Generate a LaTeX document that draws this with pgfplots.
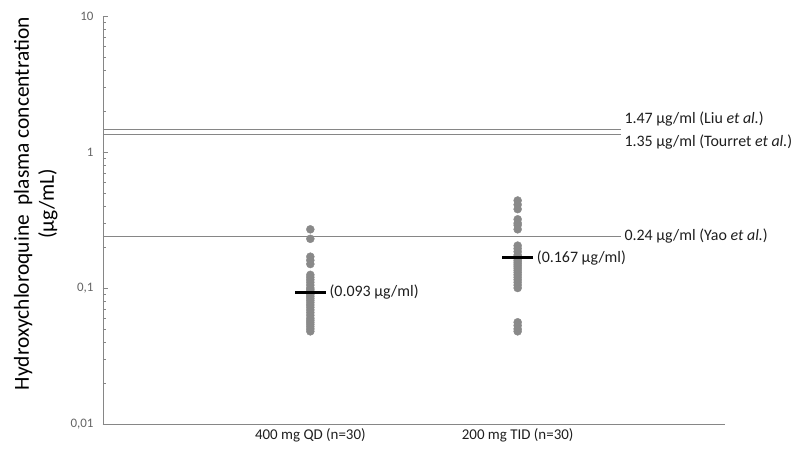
\documentclass[border=0pt]{standalone}
\usepackage{fontspec}
\setmainfont{Carlito}
\usepackage{pgfplots}
\pgfplotsset{compat=1.18}

\definecolor{dotgray}{RGB}{137,137,137}
\definecolor{axgray}{RGB}{134,134,134}
\definecolor{ticktxt}{RGB}{100,100,100}
\definecolor{txt}{RGB}{30,30,30}

% individual plasma concentrations, 400 mg QD
\pgfplotstableread{
x y
1 0.27
1 0.23
1 0.17
1 0.16
1 0.15
1 0.125
1 0.12
1 0.115
1 0.11
1 0.105
1 0.10
1 0.097
1 0.094
1 0.09
1 0.087
1 0.084
1 0.081
1 0.078
1 0.075
1 0.072
1 0.069
1 0.066
1 0.063
1 0.06
1 0.058
1 0.056
1 0.054
1 0.052
1 0.05
1 0.048
}\qd

% individual plasma concentrations, 200 mg TID
\pgfplotstableread{
x y
2 0.44
2 0.41
2 0.38
2 0.32
2 0.30
2 0.29
2 0.27
2 0.205
2 0.195
2 0.185
2 0.175
2 0.17
2 0.165
2 0.16
2 0.155
2 0.15
2 0.145
2 0.14
2 0.135
2 0.13
2 0.125
2 0.12
2 0.115
2 0.11
2 0.105
2 0.10
2 0.056
2 0.053
2 0.05
2 0.048
}\tid

\begin{document}
\begin{tikzpicture}
\path[use as bounding box] (-103bp,-31bp) rectangle (693bp,424bp);
\begin{axis}[
  at={(0,0)}, anchor=south west,
  scale only axis,
  width=622bp, height=408bp,
  ymode=log,
  ymin=0.01, ymax=10,
  xmin=0, xmax=3,
  axis x line=bottom,
  axis y line=left,
  axis line style={axgray, line width=0.9bp, -},
  ytick={0.01,0.1,1,10},
  yticklabels={{0,01},{0,1},1,10},
  yticklabel style={font=\fontsize{13}{15}\selectfont, text=ticktxt, xshift=-6bp},
  tick align=inside,
  major tick length=5bp,
  minor tick length=3.5bp,
  tick style={axgray, line width=0.7bp},
  xtick=\empty,
  extra x ticks={1,2},
  extra x tick labels={400 mg QD (n=30),200 mg TID (n=30)},
  extra x tick style={major tick length=0pt,
    tick label style={font=\fontsize{15}{17}\selectfont, text=txt, yshift=-1bp}},
  ylabel={Hydroxychloroquine\ \ plasma concentration\\(µg/mL)},
  ylabel style={at={(axis description cs:-0.108,0.54)}, anchor=center,
    align=center, font=\fontsize{21.5}{25}\selectfont, text=black},
  clip=false,
]
\addplot[axgray, line width=1bp] coordinates {(0,1.47) (2.5,1.47)};
\addplot[axgray, line width=1bp] coordinates {(0,1.35) (2.5,1.35)};
\addplot[axgray, line width=1bp] coordinates {(0,0.24) (2.5,0.24)};

\addplot[only marks, mark=*, mark size=4bp, dotgray, mark options={draw=none, fill=dotgray}] table {\qd};
\addplot[only marks, mark=*, mark size=4bp, dotgray, mark options={draw=none, fill=dotgray}] table {\tid};

\addplot[only marks, mark=-, mark size=15.5bp, mark options={line width=2.6bp, black},
  point meta=explicit symbolic, nodes near coords,
  nodes near coords style={anchor=west, inner sep=0pt, xshift=18bp,
    font=\fontsize{16}{18}\selectfont, text=txt}]
  coordinates {(1,0.093) [(0.093 µg/ml)] (2,0.167) [(0.167 µg/ml)]};

\node[anchor=west, inner sep=0pt, yshift=10bp, font=\fontsize{16}{18}\selectfont, text=txt]
  at (axis cs:2.5,1.47) {\hspace{3bp}1.47 µg/ml (Liu \textit{et al.})};
\node[anchor=west, inner sep=0pt, yshift=-8bp, font=\fontsize{16}{18}\selectfont, text=txt]
  at (axis cs:2.5,1.35) {\hspace{3bp}1.35 µg/ml (Tourret \textit{et al.})};
\node[anchor=west, inner sep=0pt, font=\fontsize{16}{18}\selectfont, text=txt]
  at (axis cs:2.5,0.24) {\hspace{3bp}0.24 µg/ml (Yao \textit{et al.})};
\end{axis}
\end{tikzpicture}
\end{document}
